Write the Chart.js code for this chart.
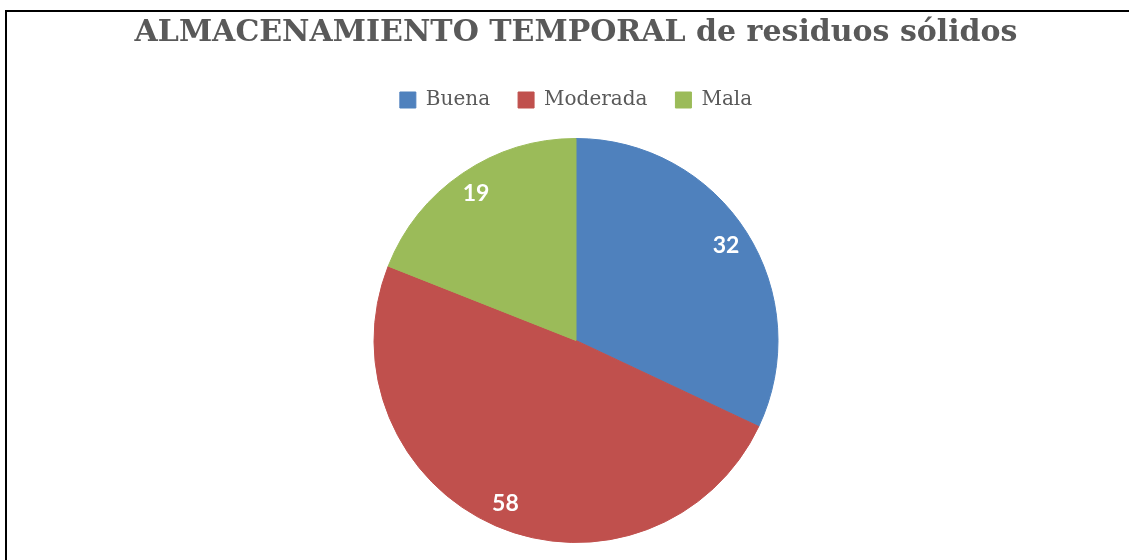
<!DOCTYPE html>
<html lang="es">
<head>
<meta charset="utf-8">
<title>ALMACENAMIENTO TEMPORAL de residuos sólidos</title>
<script src="https://cdn.jsdelivr.net/npm/chart.js@4/dist/chart.umd.min.js"></script>
<style>
    html, body {
        margin: 0;
        padding: 0;
        width: 1129px;
        height: 560px;
        overflow: hidden;
        background: #ffffff;
    }
    #frame {
        position: absolute;
        left: 5px;
        top: 10px;
        width: 1200px;
        height: 600px;
        border-left: 2px solid #000;
        border-top: 2px solid #000;
        box-sizing: border-box;
    }
    #wrap {
        position: absolute;
        left: 0;
        top: 0;
        width: 1129px;
        height: 560px;
    }
</style>
</head>
<body>
<div id="frame"></div>
<div id="wrap"><canvas id="storageChart"></canvas></div>
<script>
// Data
const categories = ['Buena', 'Moderada', 'Mala'];
// slice sizes as measured from the slice angles (about 116°, 178°, 66°)
const sliceShares = [32, 49, 19];
// numbers printed on the slices in the original (the red one reads 58)
const printedLabels = ['32', '58', '19'];
const sliceColors = ['#4F81BD', '#C0504D', '#9BBB59'];

// Draws the white value labels near the outer edge of each slice
const sliceLabels = {
    id: 'sliceLabels',
    afterDatasetsDraw(chart) {
        const ctx = chart.ctx;
        const meta = chart.getDatasetMeta(0);
        ctx.save();
        ctx.fillStyle = '#ffffff';
        ctx.font = 'bold 23px Lato, "Open Sans", sans-serif';
        ctx.textAlign = 'center';
        ctx.textBaseline = 'middle';
        meta.data.forEach((arc, i) => {
            const mid = (arc.startAngle + arc.endAngle) / 2;
            const r = arc.outerRadius * 0.88;
            ctx.fillText(printedLabels[i], arc.x + Math.cos(mid) * r, arc.y + Math.sin(mid) * r);
        });
        ctx.restore();
    }
};

// Leaves some extra room between the legend and the pie
const legendGap = {
    id: 'legendGap',
    beforeInit(chart) {
        const fit = chart.legend.fit;
        chart.legend.fit = function () {
            fit.call(this);
            this.height += 18;
        };
    }
};

document.addEventListener('DOMContentLoaded', () => {
    const ctx = document.getElementById('storageChart').getContext('2d');
    new Chart(ctx, {
        type: 'pie',
        data: {
            labels: categories,
            datasets: [{
                data: sliceShares,
                backgroundColor: sliceColors,
                borderColor: sliceColors,
                borderWidth: 1
            }]
        },
        options: {
            responsive: true,
            maintainAspectRatio: false,
            animation: false,
            layout: {
                padding: { left: 23, right: 0, top: 8, bottom: 17 }
            },
            plugins: {
                title: {
                    display: true,
                    text: 'ALMACENAMIENTO TEMPORAL de residuos sólidos',
                    color: '#595959',
                    font: { family: '"DejaVu Serif", serif', size: 30, weight: 'bold' },
                    padding: { top: 7, bottom: 11 }
                },
                legend: {
                    position: 'top',
                    labels: {
                        boxWidth: 16,
                        boxHeight: 16,
                        padding: 28,
                        color: '#595959',
                        font: { family: '"DejaVu Serif", serif', size: 20 }
                    }
                },
                tooltip: { enabled: false }
            }
        },
        plugins: [sliceLabels, legendGap]
    });
});
</script>
</body>
</html>
